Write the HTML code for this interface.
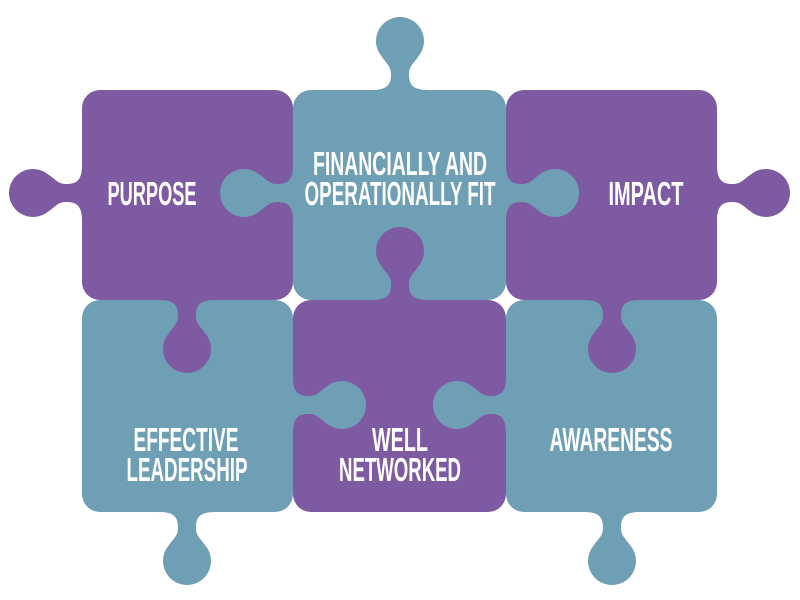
<!DOCTYPE html>
<html><head><meta charset="utf-8"><style>
html,body{margin:0;padding:0;background:#fff;width:800px;height:600px;overflow:hidden}
text{font-family:"Liberation Sans Narrow","Liberation Sans",sans-serif;font-weight:bold;font-size:33px;fill:#fff;text-anchor:middle}
</style></head><body>
<svg width="800" height="600" viewBox="0 0 800 600" xmlns="http://www.w3.org/2000/svg">
<defs>
<g id="tab">
<circle cx="0" cy="-49" r="24"/>
<path d="M-28,2 L-28,0 C-12,0 -9,-6 -9,-16 C-9,-24 -14,-27 -18,-33 L18,-33 C14,-27 9,-24 9,-16 C9,-6 12,0 28,0 L28,2 Z"/>
</g>
</defs>
<g fill="#7e5aa2">
<rect x="82" y="90" width="211" height="210" rx="18"/>
<rect x="506" y="90" width="211" height="210" rx="18"/>
<rect x="293" y="300" width="213" height="212" rx="18"/>
</g>
<g fill="#6f9fb5">
<rect x="293" y="90" width="213" height="210" rx="18"/>
<rect x="82" y="300" width="211" height="212" rx="18"/>
<rect x="506" y="300" width="211" height="212" rx="18"/>
</g>
<g fill="#7e5aa2">
<use href="#tab" transform="translate(82,193) rotate(-90)"/>
<use href="#tab" transform="translate(187,300) rotate(180)"/>
<use href="#tab" transform="translate(717,193) rotate(90)"/>
<use href="#tab" transform="translate(612,300) rotate(180)"/>
<use href="#tab" transform="translate(400,300)"/>
</g>
<g fill="#6f9fb5">
<use href="#tab" transform="translate(400,90)"/>
<use href="#tab" transform="translate(293,193) rotate(-90)"/>
<use href="#tab" transform="translate(506,193) rotate(90)"/>
<use href="#tab" transform="translate(187,512) rotate(180)"/>
<use href="#tab" transform="translate(293,405) rotate(90)"/>
<use href="#tab" transform="translate(506,405) rotate(-90)"/>
<use href="#tab" transform="translate(612,512) rotate(180)"/>
</g>
<text x="152" y="205" textLength="89" lengthAdjust="spacingAndGlyphs">PURPOSE</text>
<text x="400" y="175" textLength="174" lengthAdjust="spacingAndGlyphs">FINANCIALLY AND</text>
<text x="400" y="205" textLength="191" lengthAdjust="spacingAndGlyphs">OPERATIONALLY FIT</text>
<text x="646" y="205" textLength="75" lengthAdjust="spacingAndGlyphs">IMPACT</text>
<text x="186" y="451" textLength="105" lengthAdjust="spacingAndGlyphs">EFFECTIVE</text>
<text x="187" y="481" textLength="121" lengthAdjust="spacingAndGlyphs">LEADERSHIP</text>
<text x="400" y="451" textLength="56" lengthAdjust="spacingAndGlyphs">WELL</text>
<text x="400" y="481" textLength="122" lengthAdjust="spacingAndGlyphs">NETWORKED</text>
<text x="611" y="451" textLength="123" lengthAdjust="spacingAndGlyphs">AWARENESS</text>
</svg>
</body></html>
